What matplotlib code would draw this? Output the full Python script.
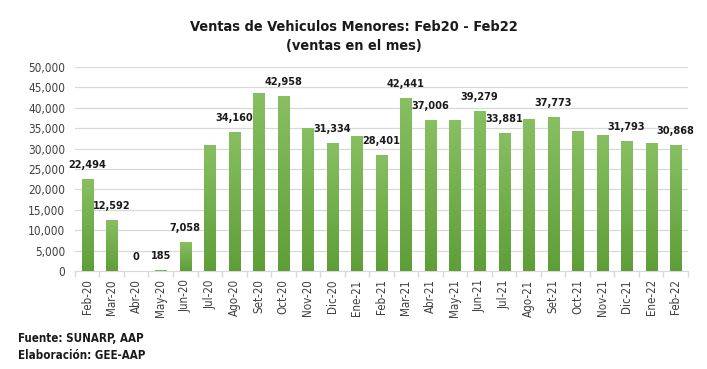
import numpy as np
import matplotlib
matplotlib.use("Agg")
import matplotlib.pyplot as plt
from matplotlib import font_manager
from matplotlib.colors import LinearSegmentedColormap

fl = font_manager.fontManager.ttflist
names = {f.name for f in fl}
has_cond = any(f.name == "DejaVu Sans" and f.stretch == "condensed" for f in fl)
if "Liberation Sans Narrow" in names:
    FONT, STRETCH = "Liberation Sans Narrow", "normal"
else:
    FONT, STRETCH = "DejaVu Sans", ("condensed" if has_cond else "normal")
plt.rcParams['font.family'] = [FONT, 'DejaVu Sans']
plt.rcParams['font.stretch'] = STRETCH
NARROW = FONT != "DejaVu Sans" or has_cond

months = ["Feb-20", "Mar-20", "Abr-20", "May-20", "Jun-20", "Jul-20", "Ago-20", "Set-20",
          "Oct-20", "Nov-20", "Dic-20", "Ene-21", "Feb-21", "Mar-21", "Abr-21", "May-21",
          "Jun-21", "Jul-21", "Ago-21", "Set-21", "Oct-21", "Nov-21", "Dic-21", "Ene-22", "Feb-22"]
ventas = [22494, 12592, 0, 185, 7058, 30800, 34160, 43700,
          42958, 35000, 31334, 33100, 28401, 42441, 37006, 37000,
          39279, 33881, 37300, 37773, 34300, 33300, 31793, 31300, 30868]
labeled = [True, True, True, True, True, False, True, False,
           True, False, True, False, True, True, True, False,
           True, True, False, True, False, False, True, False, True]
yticks = [0, 5000, 10000, 15000, 20000, 25000, 30000, 35000, 40000, 45000, 50000]

k = 1.12 if NARROW else 1.0
fs_title = 9.3 * k
fs_lab = 7.0 * k
fs_ytick = 7.6 * k
fs_xtick = 7.4 * k
fs_foot = 7.4 * k

fig = plt.figure(figsize=(7.07, 3.69), dpi=100)
ax = fig.add_axes([0.106, 0.2656, 0.867, 0.5528])

x = np.arange(len(months))
bars = ax.bar(x, ventas, width=0.45, color="#70AD47", zorder=2)

cmap = LinearSegmentedColormap.from_list("g", ["#5E9E37", "#88BF62"])
grad = np.linspace(0, 1, 256).reshape(-1, 1)
for b in bars:
    if b.get_height() <= 0:
        continue
    bx, by = b.get_x(), b.get_y()
    w, h = b.get_width(), b.get_height()
    im = ax.imshow(grad, extent=[bx, bx + w, by, by + h], origin="lower",
                   cmap=cmap, aspect="auto", zorder=3)
    im.set_clip_path(b)

for xi, v, lab in zip(x, ventas, labeled):
    if lab:
        ax.annotate(f"{v:,}", (xi, v), xytext=(0, 6.5), textcoords="offset points",
                    ha="center", va="bottom", fontsize=fs_lab, fontweight="bold",
                    color="#1a1a1a", zorder=4)

ax.set_xlim(-0.5, len(months) - 0.5)
ax.set_ylim(0, 50000)
ax.set_yticks(yticks)
ax.set_yticklabels([f"{t:,}" for t in yticks], fontsize=fs_ytick, color="#404040")
ax.set_xticks(x)
ax.set_xticklabels(months, rotation=90, fontsize=fs_xtick, color="#404040")
ax.set_xticks(np.arange(-0.5, len(months), 1), minor=True)
ax.tick_params(axis="x", which="major", length=0, pad=6)
ax.tick_params(axis="x", which="minor", length=4, color="#D9D9D9", width=1)
ax.tick_params(axis="y", length=0, pad=7)
ax.grid(axis="y", color="#D9D9D9", linewidth=0.9, zorder=0)
ax.set_axisbelow(True)
for s in ["top", "right", "left"]:
    ax.spines[s].set_visible(False)
ax.spines["bottom"].set_color("#D9D9D9")

fig.text(0.5, 0.927, "Ventas de Vehiculos Menores: Feb20 - Feb22", ha="center", va="center",
         fontsize=fs_title, fontweight="bold", color="#1a1a1a")
fig.text(0.5, 0.876, "(ventas en el mes)", ha="center", va="center",
         fontsize=fs_title, fontweight="bold", color="#1a1a1a")
fig.text(0.025, 0.083, "Fuente: SUNARP, AAP", ha="left", va="center",
         fontsize=fs_foot, fontweight="bold", color="#1a1a1a")
fig.text(0.025, 0.037, "Elaboración: GEE-AAP", ha="left", va="center",
         fontsize=fs_foot, fontweight="bold", color="#1a1a1a")

fig.savefig("out.png", dpi=100)
